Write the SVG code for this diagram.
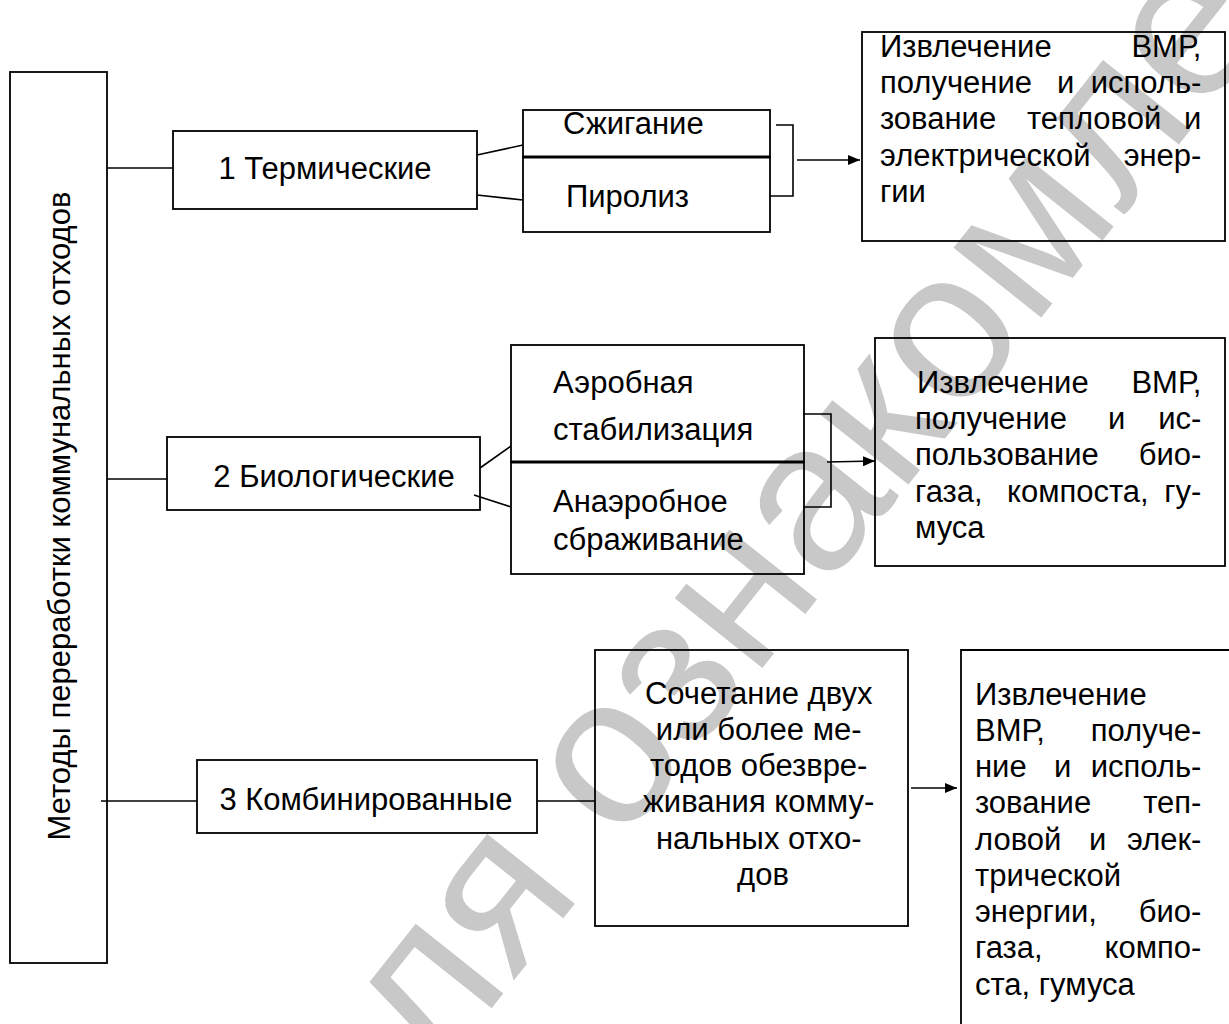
<svg xmlns="http://www.w3.org/2000/svg" width="1229" height="1024" viewBox="0 0 1229 1024">
<style>
.box{fill:none;stroke:#000;stroke-width:1.8}
.sep{stroke:#000;stroke-width:3}
.ln{stroke:#000;stroke-width:1.6;fill:none}
.t{font-family:"Liberation Sans",Arial,sans-serif;font-size:31px;fill:#000}
.e{text-anchor:end}
.m{text-anchor:middle}
.wm{font-family:"Liberation Sans",Arial,sans-serif;font-size:212px;fill:#c8c8c8}
</style>
<defs>
<marker id="ah" viewBox="0 0 12 10" refX="12" refY="5" markerWidth="12" markerHeight="10" markerUnits="userSpaceOnUse" orient="auto">
<path d="M0,0 L12,5 L0,10 z" fill="#000"/>
</marker>
</defs>
<rect width="1229" height="1024" fill="#fff"/>
<text class="wm" transform="translate(-45,1683) rotate(-51.5)">Копия для ознакомления</text>

<g id="root">
<rect class="box" x="10" y="72" width="97" height="891"/>
<text class="t m" transform="translate(70,516) rotate(-90)">Методы переработки коммунальных отходов</text>
</g>

<g id="n1">
<rect class="box" x="173" y="131" width="304" height="78"/>
<text class="t m" x="325" y="179">1 Термические</text>
</g>
<g id="n1a">
<rect class="box" x="523" y="110" width="247" height="47"/>
<text class="t" x="563" y="134">Сжигание</text>
</g>
<g id="n1b">
<rect class="box" x="523" y="157" width="247" height="75"/>
<text class="t" x="566" y="207">Пиролиз</text>
</g>
<line class="sep" x1="523" y1="157" x2="770" y2="157"/>
<g id="r1">
<rect class="box" x="862" y="32" width="363" height="209"/>
<text class="t">
<tspan x="880" y="57">Извлечение</tspan><tspan class="e" x="1210" y="57">ВМР,</tspan>
<tspan x="880" y="93">получение</tspan><tspan x="1057" y="93">и</tspan><tspan class="e" x="1210" y="93">исполь-</tspan>
<tspan x="880" y="129">зование</tspan><tspan x="1027" y="129">тепловой</tspan><tspan class="e" x="1210" y="129">и</tspan>
<tspan x="880" y="166">электрической</tspan><tspan class="e" x="1210" y="166">энер-</tspan>
<tspan x="880" y="202">гии</tspan>
</text>
</g>

<g id="n2">
<rect class="box" x="167" y="437" width="313" height="73"/>
<text class="t m" x="334" y="487">2 Биологические</text>
</g>
<g id="n2a">
<rect class="box" x="511" y="345" width="293" height="117"/>
<text class="t"><tspan x="553" y="393">Аэробная</tspan><tspan x="553" y="440">стабилизация</tspan></text>
</g>
<g id="n2b">
<rect class="box" x="511" y="462" width="293" height="112"/>
<text class="t"><tspan x="553" y="512">Анаэробное</tspan><tspan x="553" y="550">сбраживание</tspan></text>
</g>
<line class="sep" x1="511" y1="462" x2="804" y2="462"/>
<g id="r2">
<rect class="box" x="875" y="338" width="350" height="228"/>
<text class="t">
<tspan x="917" y="393">Извлечение</tspan><tspan class="e" x="1210" y="393">ВМР,</tspan>
<tspan x="915" y="429">получение</tspan><tspan x="1108" y="429">и</tspan><tspan class="e" x="1210" y="429">ис-</tspan>
<tspan x="915" y="465">пользование</tspan><tspan class="e" x="1210" y="465">био-</tspan>
<tspan x="915" y="502">газа,</tspan><tspan x="1007" y="502">компоста,</tspan><tspan class="e" x="1210" y="502">гу-</tspan>
<tspan x="915" y="538">муса</tspan>
</text>
</g>

<g id="n3">
<rect class="box" x="197" y="760" width="340" height="73"/>
<text class="t m" x="366" y="810">3 Комбинированные</text>
</g>
<g id="n3a">
<rect class="box" x="595" y="650" width="313" height="276"/>
<text class="t m">
<tspan x="763" y="704">Сочетание двух</tspan>
<tspan x="763" y="740">или более ме-</tspan>
<tspan x="763" y="776">тодов обезвре-</tspan>
<tspan x="763" y="812">живания комму-</tspan>
<tspan x="763" y="849">нальных отхо-</tspan>
<tspan x="763" y="885">дов</tspan>
</text>
</g>
<g id="r3">
<path class="box" d="M1240,650 H961 V1030"/>
<text class="t">
<tspan x="975" y="705">Извлечение</tspan>
<tspan x="975" y="741">ВМР,</tspan><tspan class="e" x="1210" y="741">получе-</tspan>
<tspan x="975" y="777">ние</tspan><tspan x="1054" y="777">и</tspan><tspan class="e" x="1210" y="777">исполь-</tspan>
<tspan x="975" y="813">зование</tspan><tspan class="e" x="1210" y="813">теп-</tspan>
<tspan x="975" y="850">ловой</tspan><tspan x="1089" y="850">и</tspan><tspan class="e" x="1210" y="850">элек-</tspan>
<tspan x="975" y="886">трической</tspan>
<tspan x="975" y="922">энергии,</tspan><tspan class="e" x="1210" y="922">био-</tspan>
<tspan x="975" y="958">газа,</tspan><tspan class="e" x="1210" y="958">компо-</tspan>
<tspan x="975" y="995">ста, гумуса</tspan>
</text>
</g>

<g id="connectors">
<line class="ln" x1="107" y1="168" x2="173" y2="168"/>
<line class="ln" x1="107" y1="479" x2="167" y2="479"/>
<line class="ln" x1="101" y1="801" x2="197" y2="801"/>
<line class="ln" x1="477" y1="155" x2="523" y2="145"/>
<line class="ln" x1="477" y1="195" x2="523" y2="200"/>
<line class="ln" x1="480" y1="468" x2="511" y2="446"/>
<line class="ln" x1="474" y1="495" x2="511" y2="507"/>
<line class="ln" x1="537" y1="801" x2="595" y2="801"/>
<path class="ln" d="M776,125 H793 V196 H770"/>
<line class="ln" x1="797" y1="160" x2="860" y2="160" marker-end="url(#ah)"/>
<path class="ln" d="M803,414 H831 V507 H803"/>
<line class="ln" x1="827" y1="462" x2="875" y2="461" marker-end="url(#ah)"/>
<line class="ln" x1="911" y1="788" x2="957" y2="788" marker-end="url(#ah)"/>
</g>
</svg>
